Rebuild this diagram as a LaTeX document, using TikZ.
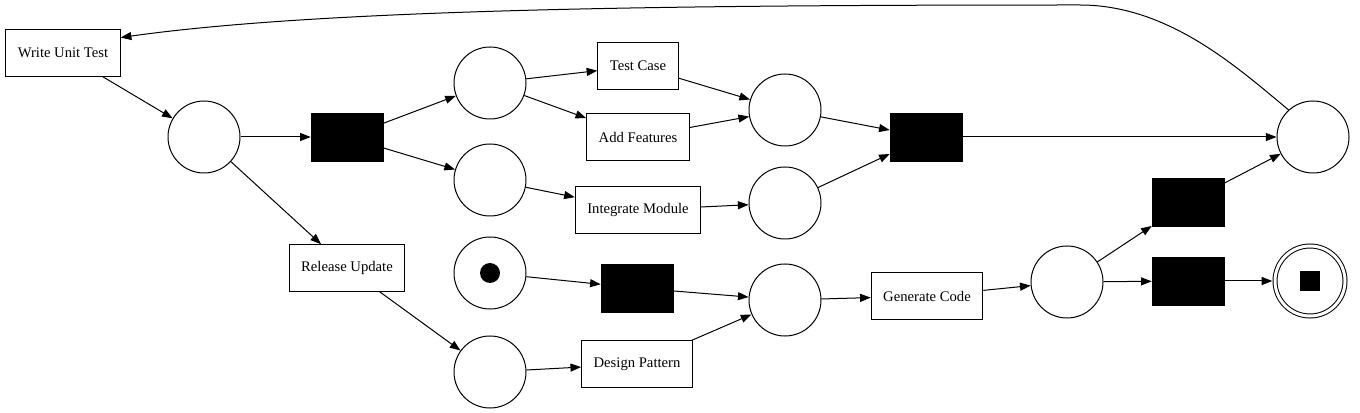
\documentclass[tikz,border=0pt]{standalone}
\usepackage{fontspec}
\setmainfont{Liberation Serif}
\usetikzlibrary{arrows.meta}
\tikzset{
    place/.style = {draw, circle, minimum size=54pt, inner sep=0pt, line width=0.75pt},
    trans/.style = {draw, fill=black, rectangle, minimum width=54pt, minimum height=36pt, inner sep=0pt},
    task/.style = {draw, rectangle, minimum height=35pt, inner xsep=9pt, line width=0.75pt, font=\fontsize{11}{13}\selectfont},
    arc/.style = {-{Triangle[length=8pt,width=6pt]}, line width=0.75pt},
}

\begin{document}
\begin{tikzpicture}[x=0.75pt, y=-0.75pt]
\useasboundingbox (0,0) rectangle (1360,413);
% places
\node[place] (p1) at (204,137) {};
\node[place] (p2) at (490,83) {};
\node[place] (p3) at (490,180) {};
\node[place] (p4) at (785,110) {};
\node[place] (p5) at (785,203) {};
\node[place] (p6) at (1313,137) {};
\node[place] (p7) at (490,273) {};
\node[place] (p8) at (785,300) {};
\node[place] (p9) at (1067,282) {};
\node[place] (p10) at (490,372) {};
\node[place, minimum size=52.5pt, double, double distance=2.25pt, outer sep=2pt] (pend) at (1310,281) {};
\node[fill=black, minimum size=15pt, inner sep=0pt] (pendmark) at (pend) {};
\fill (p7) circle (7.5pt);
% transitions
\node[trans] (t1) at (347,137) {};
\node[trans] (t2) at (926,137) {};
\node[trans] (t3) at (637,288) {};
\node[trans] (t4) at (1188,202) {};
\node[trans] (t5) at (1188,281) {};
% labelled tasks
\node[task] (wut) at (63,53) {Write Unit Test};
\node[task] (tc) at (638,66) {Test Case};
\node[task] (af) at (638,137) {Add Features};
\node[task] (im) at (638,210) {Integrate Module};
\node[task] (ru) at (347,268) {Release Update};
\node[task] (dp) at (637,364) {Design Pattern};
\node[task] (gc) at (927,296) {Generate Code};
% arcs
\draw[arc] (wut) -- (p1);
\draw[arc] (p1) -- (t1);
\draw[arc] (p1) -- (ru);
\draw[arc] (t1) -- (p2);
\draw[arc] (t1) -- (p3);
\draw[arc] (p2) -- (tc);
\draw[arc] (p2) -- (af);
\draw[arc] (p3) -- (im);
\draw[arc] (tc) -- (p4);
\draw[arc] (af) -- (p4);
\draw[arc] (im) -- (p5);
\draw[arc] (p4) -- (t2);
\draw[arc] (p5) -- (t2);
\draw[arc] (t2) -- (p6);
\draw[arc] (ru) -- (p10);
\draw[arc] (p10) -- (dp);
\draw[arc] (dp) -- (p8);
\draw[arc] (p7) -- (t3);
\draw[arc] (t3) -- (p8);
\draw[arc] (p8) -- (gc);
\draw[arc] (gc) -- (p9);
\draw[arc] (p9) -- (t4);
\draw[arc] (p9) -- (t5);
\draw[arc] (t4) -- (p6);
\draw[arc] (t5) -- (pend);
% loop back over the top
\coordinate (loop-top) at (1080,5);
\draw[arc] (p6.132) .. controls (1240,70) and (1170,5) .. (loop-top)
    .. controls (700,5) and (330,8) .. (wut.15);
\end{tikzpicture}
\end{document}
